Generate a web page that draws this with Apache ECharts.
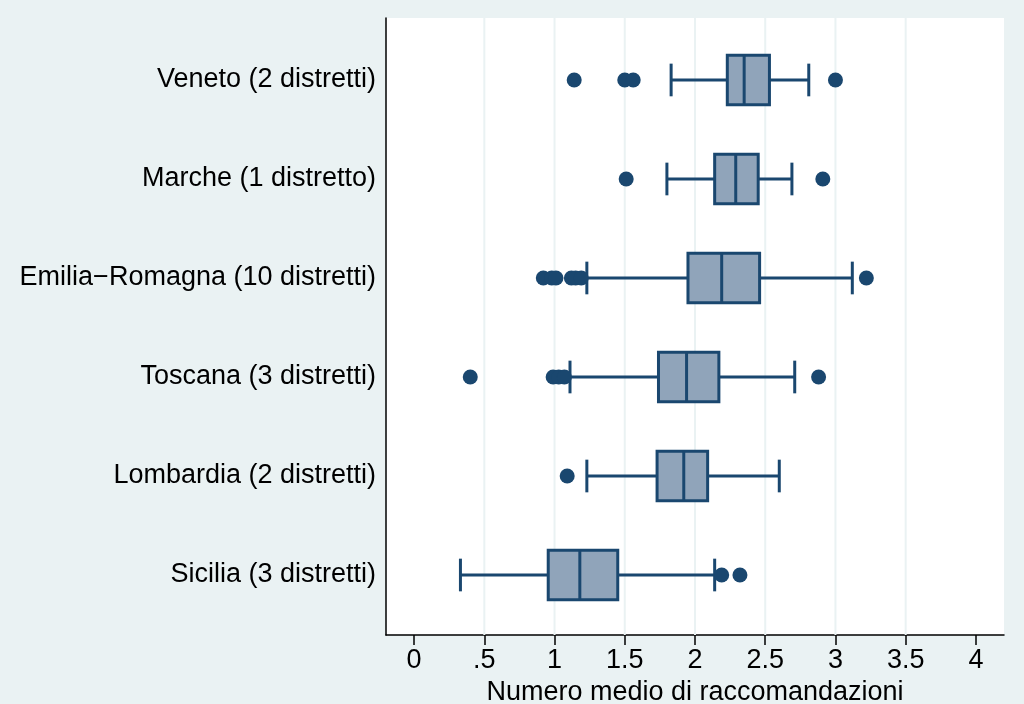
<!DOCTYPE html>
<html>
<head>
<meta charset="utf-8">
<script src="https://cdn.jsdelivr.net/npm/echarts@6/dist/echarts.min.js"></script>
<style>
html,body{margin:0;padding:0;background:#EAF2F3;}
#chart{width:1024px;height:704px;}
</style>
</head>
<body>
<div id="chart"></div>
<script>
// ---- data ----
const categories = [
  'Veneto (2 distretti)',
  'Marche (1 distretto)',
  'Emilia\u2212Romagna (10 distretti)',
  'Toscana (3 distretti)',
  'Lombardia (2 distretti)',
  'Sicilia (3 distretti)'
];
const whiskerLow  = [1.83, 1.80, 1.23, 1.11, 1.23, 0.33];
const q1          = [2.23, 2.14, 1.95, 1.74, 1.73, 0.955];
const median      = [2.35, 2.29, 2.19, 1.94, 1.92, 1.18];
const q3          = [2.53, 2.45, 2.46, 2.17, 2.09, 1.45];
const whiskerHigh = [2.81, 2.69, 3.12, 2.71, 2.60, 2.14];
const outliers = [
  [1.14, 1.50, 1.56, 3.00],
  [1.51, 2.91],
  [0.92, 0.98, 1.01, 1.12, 1.15, 1.19, 3.22],
  [0.40, 0.99, 1.03, 1.07, 2.88],
  [1.09],
  [2.19, 2.32]
];
const xTickValues = [0, 0.5, 1, 1.5, 2, 2.5, 3, 3.5, 4];
const xTickLabels = ['0', '.5', '1', '1.5', '2', '2.5', '3', '3.5', '4'];
const gridValues = [0.5, 1, 1.5, 2, 2.5, 3, 3.5];
const xTitle = 'Numero medio di raccomandazioni';

// ---- build ----
const NAVY = '#1A476F';
const FILL = '#90A4BA';
const FONT = 'Liberation Sans, Arial, sans-serif';
const FS = 27;

const boxData = categories.map((c, i) => [i, whiskerLow[i], q1[i], median[i], q3[i], whiskerHigh[i]]);
const outlierData = [];
outliers.forEach((arr, i) => arr.forEach(v => outlierData.push([v, i])));
const catIdx = categories.map((c, i) => i);

const chart = echarts.init(document.getElementById('chart'), null, {renderer: 'canvas'});
chart.setOption({
  backgroundColor: '#EAF2F3',
  animation: false,
  grid: {left: 386, right: 20, top: 18, bottom: 69, show: true, backgroundColor: '#ffffff', borderWidth: 0,
    containLabel: false, outerBoundsMode: 'none'},
  xAxis: {
    type: 'value', min: -0.2, max: 4.2,
    axisLine: {show: true, onZero: false, lineStyle: {color: '#000', width: 1.5}},
    axisTick: {show: true, customValues: xTickValues, length: 10, lineStyle: {color: '#000', width: 1.5}},
    axisLabel: {customValues: xTickValues, color: '#000', fontSize: FS, fontFamily: FONT, margin: 12,
      formatter: v => { const k = xTickValues.findIndex(t => Math.abs(t - v) < 1e-6); return k >= 0 ? xTickLabels[k] : ''; }},
    splitLine: {show: false},
    name: xTitle, nameLocation: 'middle', nameGap: 42,
    nameTextStyle: {color: '#000', fontSize: FS, fontFamily: FONT}
  },
  yAxis: {
    type: 'value', inverse: true, min: -0.626, max: 5.606,
    axisLine: {show: true, onZero: false, lineStyle: {color: '#000', width: 1.5}},
    axisTick: {show: false},
    axisLabel: {customValues: catIdx, color: '#000', fontSize: FS, fontFamily: FONT, margin: 10,
      formatter: v => { const k = Math.round(v); return categories[k] || ''; }},
    splitLine: {show: false}
  },
  series: [
    {
      type: 'custom', z: 1, silent: true,
      data: gridValues.map(v => [v]),
      encode: {x: 0},
      renderItem: (params, api) => {
        const x = api.coord([api.value(0), 0])[0];
        const cs = params.coordSys;
        return {type: 'line', shape: {x1: x, y1: cs.y, x2: x, y2: cs.y + cs.height},
          style: {stroke: '#EAF2F3', lineWidth: 2}};
      }
    },
    {
      type: 'custom', z: 3,
      data: boxData,
      encode: {y: 0, x: [1, 2, 3, 4, 5]},
      renderItem: (params, api) => {
        const ci = api.value(0);
        const pWL = api.coord([api.value(1), ci]);
        const pQ1 = api.coord([api.value(2), ci]);
        const pMd = api.coord([api.value(3), ci]);
        const pQ3 = api.coord([api.value(4), ci]);
        const pWH = api.coord([api.value(5), ci]);
        const band = api.size([0, 1])[1];
        const bh = band * 0.25, ch = band * 0.165;
        const y = pMd[1];
        const ls = {stroke: NAVY, lineWidth: 3, fill: null};
        return {type: 'group', children: [
          {type: 'line', shape: {x1: pWL[0], y1: y, x2: pQ1[0], y2: y}, style: ls},
          {type: 'line', shape: {x1: pQ3[0], y1: y, x2: pWH[0], y2: y}, style: ls},
          {type: 'line', shape: {x1: pWL[0], y1: y - ch, x2: pWL[0], y2: y + ch}, style: ls},
          {type: 'line', shape: {x1: pWH[0], y1: y - ch, x2: pWH[0], y2: y + ch}, style: ls},
          {type: 'rect', shape: {x: pQ1[0], y: y - bh, width: pQ3[0] - pQ1[0], height: 2 * bh},
            style: {fill: FILL, stroke: NAVY, lineWidth: 3}},
          {type: 'line', shape: {x1: pMd[0], y1: y - bh, x2: pMd[0], y2: y + bh}, style: ls}
        ]};
      }
    },
    {
      type: 'scatter', z: 4,
      data: outlierData,
      symbol: 'circle', symbolSize: 15,
      itemStyle: {color: NAVY, opacity: 1}
    }
  ]
});
</script>
</body>
</html>
